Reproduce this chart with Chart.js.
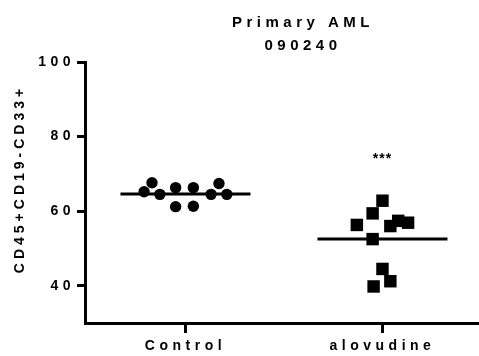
<!DOCTYPE html>
<html>
<head>
<meta charset="utf-8">
<script src="https://cdn.jsdelivr.net/npm/chart.js@4/dist/chart.umd.min.js"></script>
<style>
  html, body { margin: 0; padding: 0; background: #fff; }
  #wrap { width: 479px; height: 356px; }
</style>
</head>
<body>
<div id="wrap"><canvas id="c" width="479" height="356"></canvas></div>
<script>
// values
var categories = ['Control', 'alovudine'];
var titleLines = ['Primary AML', '090240'];
var yTitle = 'CD45+CD19-CD33+';
var yTicks = [40, 60, 80, 100];

// x offsets are the scatter jitter of each point around its category
var controlX = [-0.21, -0.17, -0.13, -0.05, -0.05, 0.04, 0.04, 0.13, 0.17, 0.21];
var controlY = [65.2, 67.6, 64.5, 66.3, 61.2, 66.3, 61.3, 64.5, 67.4, 64.5];
var aloX = [0.0, -0.05, -0.13, 0.04, 0.08, 0.13, -0.05, 0.0, 0.04, -0.045];
var aloY = [62.8, 59.4, 56.3, 56.0, 57.4, 56.9, 52.5, 44.5, 41.2, 39.8];
var centerLines = [64.6, 52.5];
var stars = '***';
var starsY = 74.5;

var font = 'Liberation Sans, Arial, sans-serif';
var spacing = '4.5px';

function pts(xs, ys, base) {
    return xs.map(function(x, i) { return {x: base + x, y: ys[i]}; });
}

function bar(i) {
    return [{x: i - 0.33, y: centerLines[i]}, {x: i + 0.33, y: centerLines[i]}];
}

var textPlugin = {
    id: 'prismText',
    beforeDraw: function(chart) {
        chart.ctx.letterSpacing = spacing;
    },
    afterDraw: function(chart) {
        var ctx = chart.ctx;
        ctx.save();
        ctx.fillStyle = '#000';
        ctx.textBaseline = 'middle';
        ctx.textAlign = 'center';
        ctx.letterSpacing = '4.5px';
        ctx.font = 'bold 15px ' + font;
        ctx.fillText(titleLines[0], 303, 23);
        ctx.fillText(titleLines[1], 303, 46);

        // y axis title
        ctx.save();
        ctx.translate(20, 179);
        ctx.rotate(-Math.PI / 2);
        ctx.letterSpacing = '4px';
        ctx.font = 'bold 14px ' + font;
        ctx.fillText(yTitle, 0, 0);
        ctx.restore();

        // significance stars
        ctx.letterSpacing = '1px';
        ctx.font = 'bold 14px ' + font;
        ctx.fillText(stars, chart.scales.x.getPixelForValue(1), chart.scales.y.getPixelForValue(starsY) + 2);
        ctx.restore();
    }
};

var ctx = document.getElementById('c').getContext('2d');
var chart = new Chart(ctx, {
    type: 'scatter',
    data: {
        datasets: [
            {
                label: categories[0],
                data: pts(controlX, controlY, 0),
                pointStyle: 'circle',
                pointRadius: 5.7,
                backgroundColor: '#000',
                borderColor: '#000',
                borderWidth: 0
            },
            {
                label: categories[1],
                data: pts(aloX, aloY, 1),
                pointStyle: 'rect',
                pointRadius: 8.8,
                backgroundColor: '#000',
                borderColor: '#000',
                borderWidth: 0
            },
            {
                data: bar(0),
                showLine: true,
                pointRadius: 0,
                borderColor: '#000',
                borderWidth: 3
            },
            {
                data: bar(1),
                showLine: true,
                pointRadius: 0,
                borderColor: '#000',
                borderWidth: 3
            }
        ]
    },
    options: {
        responsive: false,
        animation: false,
        layout: { autoPadding: false, padding: { top: 62, right: 0, bottom: 0, left: 0 } },
        plugins: {
            legend: { display: false },
            tooltip: { enabled: false }
        },
        scales: {
            x: {
                type: 'linear',
                min: -0.51,
                max: 1.49,
                afterBuildTicks: function(scale) {
                    scale.ticks = categories.map(function(c, i) { return {value: i}; });
                },
                afterFit: function(scale) {
                    scale.height = 33;
                    scale.paddingLeft = 0;
                    scale.paddingRight = 0;
                },
                ticks: {
                    callback: function(v) { return categories[v]; },
                    color: '#000',
                    font: { family: font, size: 14, weight: 'bold' },
                    padding: 5,
                    maxRotation: 0
                },
                grid: { drawOnChartArea: false, color: '#000', lineWidth: 3, tickLength: 10 },
                border: { color: '#000', width: 3 }
            },
            y: {
                min: 30,
                max: 100,
                afterBuildTicks: function(scale) {
                    scale.ticks = yTicks.map(function(v) { return {value: v}; });
                },
                afterFit: function(scale) {
                    scale.width = 85;
                    scale.paddingTop = 0;
                    scale.paddingBottom = 0;
                },
                ticks: {
                    color: '#000',
                    font: { family: font, size: 14, weight: 'bold' },
                    padding: 2
                },
                grid: { drawOnChartArea: false, color: '#000', lineWidth: 3, tickLength: 8 },
                border: { color: '#000', width: 3 }
            }
        }
    },
    plugins: [textPlugin]
});
</script>
</body>
</html>
